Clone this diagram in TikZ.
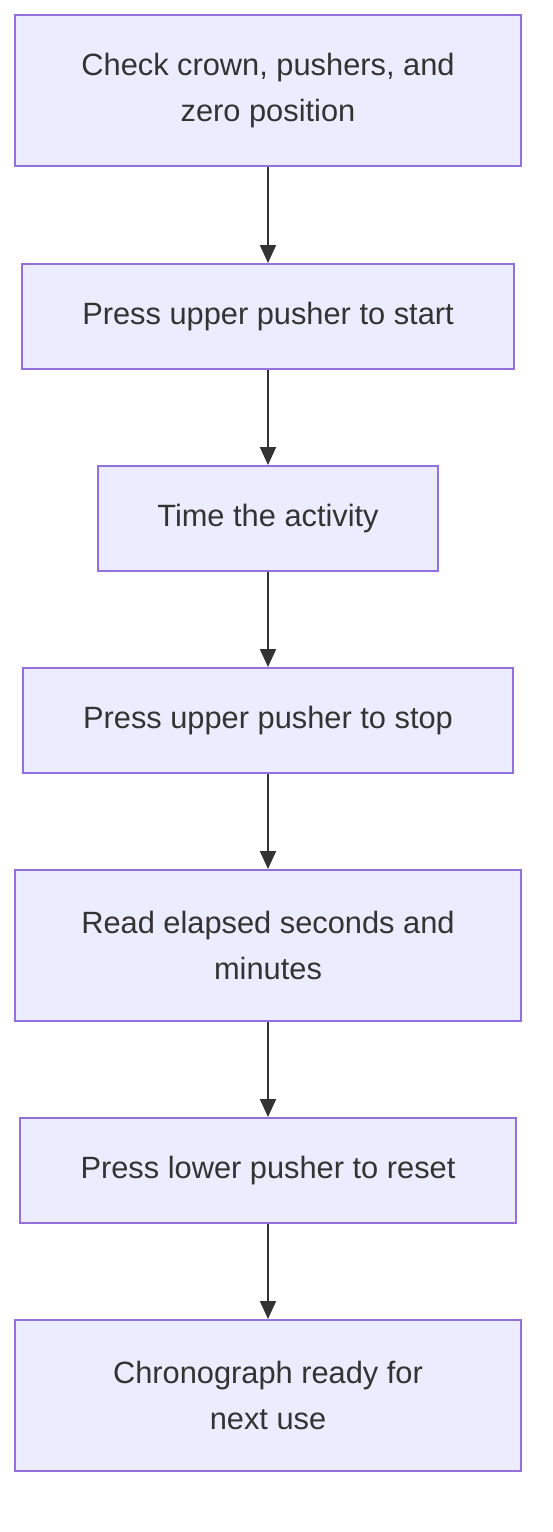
\documentclass[tikz,border=0pt]{standalone}
\usepackage{fontspec}
\setmainfont{Liberation Sans}
\usetikzlibrary{arrows.meta}
\definecolor{boxfill}{HTML}{ECECFF}
\definecolor{boxline}{HTML}{9370DB}
\definecolor{ink}{HTML}{333333}
\begin{document}
\begin{tikzpicture}[x=1pt,y=-1pt,
  stepbox/.style={draw=boxline,fill=boxfill,line width=2pt,align=center,text=ink,
    font=\fontsize{30.8}{46}\selectfont,inner sep=0pt,anchor=center},
  conn/.style={draw=ink,line width=2pt,-{Triangle[length=18pt,width=16pt]}}]
\useasboundingbox (0,0) rectangle (552,1532);
\fill[white] (0,0) rectangle (552,1532);
\node[stepbox,minimum width=506pt,minimum height=151pt] (b1) at (268,90.5) {Check crown, pushers, and\\zero position};
\node[stepbox,minimum width=492pt,minimum height=105pt] (b2) at (268,316.5) {Press upper pusher to start};
\node[stepbox,minimum width=340pt,minimum height=105pt] (b3) at (268,518.5) {Time the activity};
\node[stepbox,minimum width=490pt,minimum height=105pt] (b4) at (268,720.5) {Press upper pusher to stop};
\node[stepbox,minimum width=506pt,minimum height=151pt] (b5) at (268,945.5) {Read elapsed seconds and\\minutes};
\node[stepbox,minimum width=496pt,minimum height=105pt] (b6) at (268,1170.5) {Press lower pusher to reset};
\node[stepbox,minimum width=506pt,minimum height=151pt] (b7) at (268,1395.5) {Chronograph ready for\\next use};
\draw[conn] (b1) -- (b2);
\draw[conn] (b2) -- (b3);
\draw[conn] (b3) -- (b4);
\draw[conn] (b4) -- (b5);
\draw[conn] (b5) -- (b6);
\draw[conn] (b6) -- (b7);
\end{tikzpicture}
\end{document}
